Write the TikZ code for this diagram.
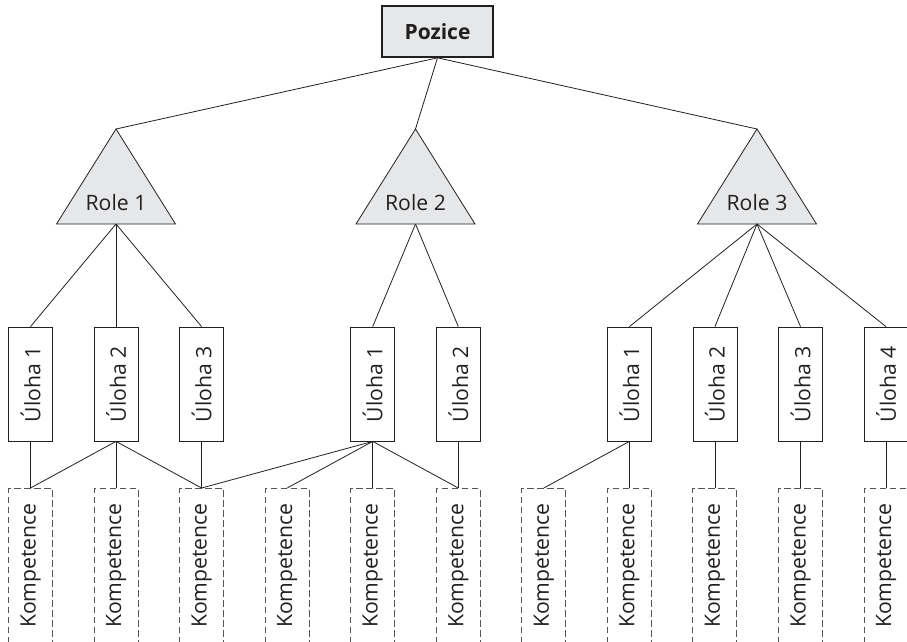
\documentclass[tikz,border=0pt]{standalone}
\usepackage{fontspec}
\setmainfont{Open Sans}
\definecolor{boxgray}{RGB}{230,231,232}
\definecolor{txt}{RGB}{35,31,32}
\definecolor{dashgray}{RGB}{85,85,85}
\begin{document}
\begin{tikzpicture}[x=1pt,y=-1pt,
  every node/.style={font=\fontsize{21.2}{25}\selectfont, text=txt},
  pozbox/.style={draw=txt, line width=1.6pt, fill=boxgray, minimum width=111pt, minimum height=51pt, inner sep=0pt, font=\fontsize{21}{25}\selectfont\bfseries},
  tri/.style={draw=txt, line width=0.8pt, fill=boxgray, line join=miter},
  ulbox/.style={draw=txt, line width=0.8pt, fill=white, minimum width=44pt, minimum height=114pt, inner sep=0pt},
  kombox/.style={draw=dashgray, line width=1pt, dash pattern=on 6.5pt off 3.5pt, minimum width=44pt, minimum height=154pt, inner sep=0pt, anchor=north},
  conn/.style={draw=txt, line width=0.8pt}
]
\useasboundingbox (0,0) rectangle (907,641);

% top box
\node[pozbox] (P) at (437.5,31.5) {Pozice};

% roles (triangles)
\coordinate (r1t) at (116,129);  \coordinate (r1b) at (116,224);
\coordinate (r2t) at (415.5,129);\coordinate (r2b) at (415.5,224);
\coordinate (r3t) at (757,129);  \coordinate (r3b) at (757,224);
\draw[conn] (P.south) -- (r1t);
\draw[conn] (P.south) -- (r2t);
\draw[conn] (P.south) -- (r3t);
\draw[tri] (r1t) -- ++(59.5,95) -- ++(-119,0) -- cycle;
\draw[tri] (r2t) -- ++(59.5,95) -- ++(-119,0) -- cycle;
\draw[tri] (r3t) -- ++(59.5,95) -- ++(-119,0) -- cycle;
\node (R1) at (116,202.5) {Role 1};
\node (R2) at (415.5,202.5) {Role 2};
\node (R3) at (757,202.5) {Role 3};

% tasks
\node[ulbox] (u11) at (30.5,384)  {\rotatebox{90}{Úloha 1}};
\node[ulbox] (u12) at (116,384)   {\rotatebox{90}{Úloha 2}};
\node[ulbox] (u13) at (201.6,384) {\rotatebox{90}{Úloha 3}};
\node[ulbox] (u21) at (372.7,384) {\rotatebox{90}{Úloha 1}};
\node[ulbox] (u22) at (458.3,384) {\rotatebox{90}{Úloha 2}};
\node[ulbox] (u31) at (629.4,384) {\rotatebox{90}{Úloha 1}};
\node[ulbox] (u32) at (714.9,384) {\rotatebox{90}{Úloha 2}};
\node[ulbox] (u33) at (800.5,384) {\rotatebox{90}{Úloha 3}};
\node[ulbox] (u34) at (886,384)   {\rotatebox{90}{Úloha 4}};

\draw[conn] (r1b) -- (u11.north);
\draw[conn] (r1b) -- (u12.north);
\draw[conn] (r1b) -- (u13.north);
\draw[conn] (r2b) -- (u21.north);
\draw[conn] (r2b) -- (u22.north);
\draw[conn] (r3b) -- (u31.north);
\draw[conn] (r3b) -- (u32.north);
\draw[conn] (r3b) -- (u33.north);
\draw[conn] (r3b) -- (u34.north);

% competences
\node[kombox] (k1)  at (30.5,488)  {\rotatebox{90}{Kompetence}};
\node[kombox] (k2)  at (116,488)   {\rotatebox{90}{Kompetence}};
\node[kombox] (k3)  at (201.6,488) {\rotatebox{90}{Kompetence}};
\node[kombox] (k4)  at (287.2,488) {\rotatebox{90}{Kompetence}};
\node[kombox] (k5)  at (372.7,488) {\rotatebox{90}{Kompetence}};
\node[kombox] (k6)  at (458.3,488) {\rotatebox{90}{Kompetence}};
\node[kombox] (k7)  at (543.8,488) {\rotatebox{90}{Kompetence}};
\node[kombox] (k8)  at (629.4,488) {\rotatebox{90}{Kompetence}};
\node[kombox] (k9)  at (714.9,488) {\rotatebox{90}{Kompetence}};
\node[kombox] (k10) at (800.5,488) {\rotatebox{90}{Kompetence}};
\node[kombox] (k11) at (886,488)   {\rotatebox{90}{Kompetence}};

\draw[conn] (u11.south) -- (k1.north);
\draw[conn] (u12.south) -- (k1.north);
\draw[conn] (u12.south) -- (k2.north);
\draw[conn] (u12.south) -- (k3.north);
\draw[conn] (u13.south) -- (k3.north);
\draw[conn] (u21.south) -- (k3.north);
\draw[conn] (u21.south) -- (k4.north);
\draw[conn] (u21.south) -- (k5.north);
\draw[conn] (u21.south) -- (k6.north);
\draw[conn] (u22.south) -- (k6.north);
\draw[conn] (u31.south) -- (k7.north);
\draw[conn] (u31.south) -- (k8.north);
\draw[conn] (u32.south) -- (k9.north);
\draw[conn] (u33.south) -- (k10.north);
\draw[conn] (u34.south) -- (k11.north);
\end{tikzpicture}
\end{document}
